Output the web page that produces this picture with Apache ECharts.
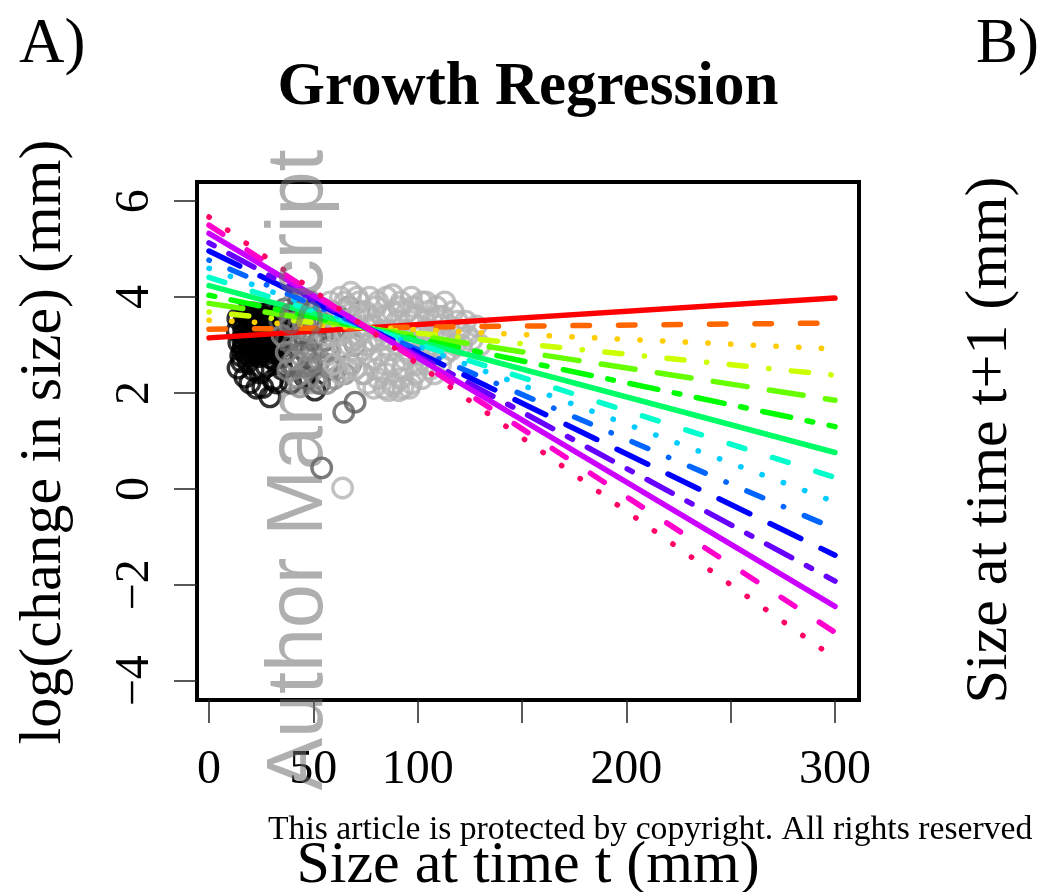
<!DOCTYPE html>
<html>
<head>
<meta charset="utf-8">
<script src="https://cdn.jsdelivr.net/npm/echarts@6/dist/echarts.min.js"></script>
<style>
  html, body { margin: 0; padding: 0; background: #fff; }
  #chart { width: 1040px; height: 892px; }
</style>
</head>
<body>
<div id="chart"></div>
<script>
  // tick positions / labels
  var xTicks = [0, 50, 100, 150, 200, 250, 300];
  var xLabels = [0, 50, 100, 200, 300];
  var yTicks = [-4, -2, 0, 2, 4, 6];

  // regression lines: value at size 0 and at size 300
  var lineColors = ['#FF0000', '#FF6600', '#FFCC00', '#CCFF00', '#66FF00', '#00FF00', '#00FF66', '#00FFCC',
                    '#00CCFF', '#0066FF', '#0000FF', '#6600FF', '#CC00FF', '#FF00CC', '#FF0066'];
  var lineStart = [3.15, 3.33, 3.52, 3.69, 3.87, 4.04, 4.24, 4.41, 4.60, 4.77, 4.96, 5.13, 5.33, 5.50, 5.67];
  var lineEnd = [3.98, 3.46, 2.92, 2.37, 1.85, 1.30, 0.76, 0.24, -0.27, -0.83, -1.38, -1.92, -2.45, -2.99, -3.53];

  // observed points (size t, log change), grouped by shade
  var blackPts = [
    [17.5,2.82],[21,2.83],[24.5,2.81],[28,2.82],[31.5,2.83],
    [16,2.89],[19.5,2.90],[23,2.88],[26.5,2.89],[30,2.90],[33,2.88],
    [16.5,2.96],[20,2.95],[23.5,2.97],[27,2.96],[30.5,2.95],
    [18.2,3.03],[21.8,3.04],[25.3,3.02],[28.7,3.03],
    [16.2,3.10],[19.9,3.11],[23.4,3.09],[26.9,3.10],[30.4,3.11],
    [18,3.17],[21.6,3.18],[25.1,3.16],[28.8,3.17],
    [16.6,3.24],[20.1,3.25],[23.6,3.23],[27.2,3.24],[30.7,3.25],
    [18.3,3.31],[21.9,3.32],[25.4,3.30],[28.6,3.31],
    [16.4,3.38],[19.8,3.39],[23.2,3.37],[26.8,3.38],[30.2,3.39],
    [18.1,3.45],[21.7,3.46],[25.2,3.44],[28.9,3.45],
    [16.8,3.52],[20.2,3.53],[23.7,3.51],[27.1,3.52],[30.6,3.53],
    [18.4,3.59],[21.5,3.60],[25,3.58],[28.5,3.59],
    [17.5,3.66],[21,3.67],[24.5,3.65],[28,3.66],
    [33.8,3.1],[34,3.42],[33.5,3.58],
    [34.5,2.95],[35.5,3.25],[36,3.55],[35,2.75],[31,2.7],
    [13.5,3.3],[13.8,3.55],[14.3,3.05],[32.6,3.62],[33.1,3.25],[32.4,2.95],
    [19,2.78],[24,2.76],[29,2.74],[15.2,2.78],
    [15.6,2.65],[13.9,2.52],[17.2,2.33],[19.6,2.21],[22.8,2.10],[25.8,2.12],
    [29.2,1.92],[30.6,2.27],[24.4,2.42],[21.1,2.48],[18.7,2.65],[32.4,2.21],
    [39.2,2.21],[45.9,2.33],[50.7,2.06],[27.5,2.55],[35,2.5]
  ];
  var darkPts = [
    [54,0.44],[64.6,1.6],[70,1.81],[36,3.75],[38,3.4],[40,3.0],[42,3.7],[44,3.25],
    [46,2.85],[48,3.55],[50,3.1],[52,2.6],[55,3.45],[57,2.95],[60,3.3],[47,2.3],[53,2.2],[41,2.55],
    [34,3.5],[37,3.1],[39,2.6],[43,3.9],[45,2.4],[49,2.9],[51,3.8],[56,3.1],[58,2.5],[62,3.6]
  ];
  var midPts = [
    [37.8,2.48],[42,2.33],[46.9,2.54],[51.7,2.33],[56.5,2.2],[53,2.69],[58,2.9],[43.5,2.13],
    [35,3.2],[37,2.85],[40,3.85],[45,3.5],[49,3.9],[50,2.85],[55,3.75],[58,3.2],
    [61,2.5],[62,3.6],[64,2.95],[66,3.35],[68,2.6],[70,3.0],[72,3.7],[74,2.4],
    [39,3.4],[41,2.7],[44,3.0],[47,3.3],[48,2.6],[52,3.5],[54,3.1],[57,2.6],
    [59,3.7],[60,2.3],[63,3.3],[65,2.4],[67,3.8],[69,3.1]
  ];
  var lightPts = [
    [56,3.2],[58,3.9],[60,2.6],[61,3.5],[63,4.0],[64,2.9],[65,3.3],[66,3.7],[67,2.5],[68,4.1],
    [69,3.1],[70,3.6],[71,2.8],[72,3.9],[73,3.3],[74,2.4],[75,3.7],[76,3.0],[77,4.0],[78,2.7],
    [79,3.4],[80,3.8],[81,2.3],[82,3.1],[83,3.6],[84,2.6],[85,4.0],[86,3.3],[87,2.9],[88,3.7],
    [89,2.2],[90,3.5],[91,3.0],[92,3.9],[93,2.5],[94,3.3],[95,3.7],[96,2.8],[97,4.0],[98,3.2],
    [99,2.4],[100,3.6],[101,2.9],[102,3.9],[103,3.3],[104,2.6],[105,3.7],[106,3.0],[107,3.5],[108,2.4],
    [109,3.8],[110,3.2],[112,3.6],[113,2.8],[115,3.4],[117,3.7],[118,3.0],[120,3.3],[123,3.5],[126,3.1],
    [130,3.0],[84,2.1],[88,2.15],[93,2.1],[64,0.02],
    [57,2.8],[59,3.6],[62,3.2],[63,2.4],[65,3.9],[67,3.0],[68,3.5],[70,2.5],[71,4.0],[72,3.2],
    [74,2.9],[75,3.4],[76,2.2],[77,3.6],[78,3.1],[80,2.5],[81,3.9],[82,2.8],[83,3.3],[85,2.4],
    [85,3.6],[87,3.1],[88,4.05],[89,2.6],[90,3.2],[91,3.8],[92,2.3],[94,2.7],[95,3.0],[96,3.5],
    [97,2.2],[98,3.8],[99,3.0],[100,2.6],[101,3.4],[103,2.8],[104,3.9],[105,3.2],[106,2.5],[108,3.3],
    [109,2.9],[110,3.6],[111,2.6],[113,3.9],[114,3.1],[116,2.9],[119,3.5],[121,3.0],[124,3.2],[128,3.4],
    [79,2.1],[86,2.05],[91,2.05],[96,2.1],[102,2.3]
  ];

  // R lty 1..6 as canvas dash arrays (round caps)
  var ltyDash = [null, [16.5, 29], [0.3, 22.4], [0.3, 22.5, 17.2, 22.5], [34.2, 22.5], [5.8, 16.8, 28.5, 16.8]];

  var serif = 'Liberation Serif';
  var chart = echarts.init(document.getElementById('chart'));

  function ptsSeries(data, col) {
    return {
      type: 'scatter',
      data: data,
      symbol: 'circle',
      symbolSize: 19.5,
      itemStyle: { color: 'rgba(0,0,0,0)', borderColor: col, borderWidth: 3.4 },
      emphasis: { disabled: true },
      silent: true
    };
  }

  var series = [
    ptsSeries(blackPts, '#000000'),
    ptsSeries(darkPts, '#5a5a5a'),
    ptsSeries(midPts, '#8a8a8a'),
    ptsSeries(lightPts, '#b3b3b3')
  ];

  for (var i = 0; i < lineColors.length; i++) {
    var d = ltyDash[i % 6];
    series.push({
      type: 'line',
      data: [[0, lineStart[i]], [300, lineEnd[i]]],
      showSymbol: false,
      symbol: 'none',
      silent: true,
      lineStyle: { color: lineColors[i], width: 5.5, type: d ? d : 'solid', cap: 'round' }
    });
  }

  var option = {
    animation: false,
    backgroundColor: '#fff',
    grid: { left: 197, right: 181, top: 182, bottom: 192, show: true, borderColor: '#000', borderWidth: 4, backgroundColor: 'transparent' },
    xAxis: {
      type: 'value',
      min: -5.75,
      max: 311.5,
      axisLine: { show: false, onZero: false },
      splitLine: { show: false },
      axisTick: { show: true, length: 23, lineStyle: { color: '#222', width: 1.5 }, customValues: xTicks },
      axisLabel: { show: true, customValues: xLabels, margin: 46, fontFamily: serif, fontSize: 48, color: '#000' }
    },
    yAxis: {
      type: 'value',
      min: -4.4,
      max: 6.4,
      axisLine: { show: false, onZero: false },
      splitLine: { show: false },
      axisTick: { show: true, length: 23, lineStyle: { color: '#222', width: 1.5 }, customValues: yTicks },
      axisLabel: {
        show: true, customValues: yTicks, rotate: 90, margin: 38,
        fontFamily: serif, fontSize: 48, color: '#000',
        formatter: function (v) { return v < 0 ? '\u2212' + Math.abs(v) : String(v); }
      }
    },
    graphic: [
      { type: 'text', left: 19, top: 14, style: { text: 'A)', font: '63px ' + serif, fill: '#000' } },
      { type: 'text', left: 976, top: 14, style: { text: 'B)', font: '63px ' + serif, fill: '#000' } },
      { type: 'text', x: 528, y: 88, style: { text: 'Growth Regression', font: 'bold 61px ' + serif, fill: '#000', align: 'center', verticalAlign: 'middle' } },
      { type: 'text', x: 528, y: 866, style: { text: 'Size at time t (mm)', font: '60px ' + serif, fill: '#000', align: 'center', verticalAlign: 'middle' } },
      { type: 'text', x: 44, y: 442, rotation: Math.PI / 2, style: { text: 'log(change in size) (mm)', font: '60px ' + serif, fill: '#000', align: 'center', verticalAlign: 'middle' } },
      { type: 'text', x: 990, y: 440, rotation: Math.PI / 2, style: { text: 'Size at time t+1 (mm)', font: '60px ' + serif, fill: '#000', align: 'center', verticalAlign: 'middle' } },
      { type: 'text', x: 268, y: 830, z: 100, style: { text: 'This article is protected by copyright. All rights reserved', font: '33.7px ' + serif, fill: '#000', align: 'left', verticalAlign: 'middle' } },
      { type: 'text', x: 300, y: 470, z: 100, rotation: Math.PI / 2, style: { text: 'Author Manuscript', font: '79px Liberation Sans', fill: 'rgba(110,110,110,0.55)', align: 'center', verticalAlign: 'middle' } }
    ],
    series: series
  };
  chart.setOption(option);
</script>
</body>
</html>
